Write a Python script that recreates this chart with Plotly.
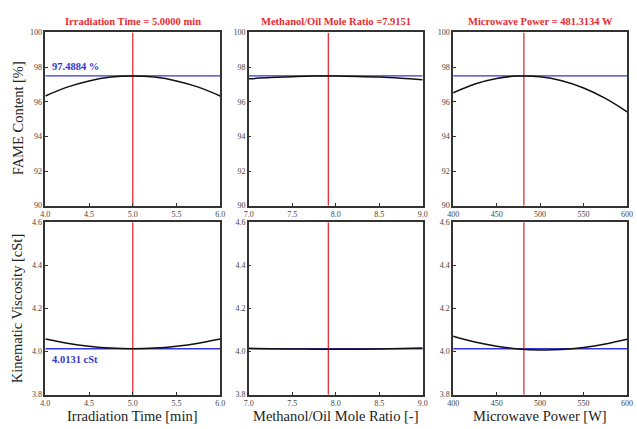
import plotly.graph_objects as go

# ---- data ----
time_x = [4.0, 4.25, 4.5, 4.75, 5.0, 5.25, 5.5, 5.75, 6.0]
fame_time = [96.33, 96.84, 97.20, 97.42, 97.49, 97.42, 97.20, 96.84, 96.33]
visc_time = [4.058, 4.039, 4.025, 4.016, 4.013, 4.016, 4.025, 4.039, 4.058]

ratio_x = [7.0, 7.25, 7.5, 7.75, 8.0, 8.25, 8.5, 8.75, 9.0]
fame_ratio = [97.32, 97.39, 97.44, 97.48, 97.485, 97.46, 97.42, 97.35, 97.26]
visc_ratio = [4.015, 4.013, 4.012, 4.011, 4.011, 4.011, 4.012, 4.014, 4.016]

power_x = [400, 425, 450, 475, 500, 525, 550, 575, 600]
fame_power = [96.51, 97.02, 97.34, 97.48, 97.44, 97.21, 96.79, 96.19, 95.42]
visc_power = [4.071, 4.044, 4.025, 4.012, 4.007, 4.009, 4.019, 4.035, 4.057]

opt_time = 5.0
opt_ratio = 7.9151
opt_power = 481.3134
opt_fame = 97.4884
opt_visc = 4.0131

panel_titles = ["Irradiation Time = 5.0000 min", "Methanol/Oil Mole Ratio =7.9151",
                "Microwave Power = 481.3134 W"]
x_titles = ["Irradiation Time [min]", "Methanol/Oil Mole Ratio [-]", "Microwave Power [W]"]
y_titles = ["FAME Content [%]", "Kinematic Viscosity [cSt]"]

x_ranges = [[4.0, 6.0], [7.0, 9.0], [400, 600]]
x_dtick = [0.5, 0.5, 50]
x_fmt = [".1f", ".1f", "d"]

RED = "#e52d35"
BLUE = "#3535d0"
SERIF = "Liberation Serif"

W, H = 637, 429
xdom_px = [(40, 218), (247, 424), (455, 632)]
ydom_px = [(29, 206), (223, 399)]

fig = go.Figure()

xs = [time_x, ratio_x, power_x]
ys_top = [fame_time, fame_ratio, fame_power]
ys_bot = [visc_time, visc_ratio, visc_power]
opts = [opt_time, opt_ratio, opt_power]

layout = dict(width=W, height=H, margin=dict(l=0, r=0, t=0, b=0),
              paper_bgcolor="white", plot_bgcolor="white", showlegend=False,
              font=dict(family=SERIF, color="#333"))
annotations = []

for r in range(2):
    for c in range(3):
        idx = r * 3 + c + 1
        xa = "x" if idx == 1 else f"x{idx}"
        ya = "y" if idx == 1 else f"y{idx}"
        xkey = "xaxis" if idx == 1 else f"xaxis{idx}"
        ykey = "yaxis" if idx == 1 else f"yaxis{idx}"
        yvals = ys_top[c] if r == 0 else ys_bot[c]
        hval = opt_fame if r == 0 else opt_visc
        yrange = [90, 100] if r == 0 else [3.8, 4.6]
        ydt = 2 if r == 0 else 0.2
        yfmt = "d" if r == 0 else ".1f"
        # blue optimum line
        fig.add_trace(go.Scatter(x=x_ranges[c], y=[hval, hval], mode="lines",
                                 line=dict(color=BLUE, width=1.3), xaxis=xa, yaxis=ya,
                                 hoverinfo="skip"))
        # red vertical line
        fig.add_trace(go.Scatter(x=[opts[c], opts[c]], y=yrange, mode="lines",
                                 line=dict(color=RED, width=1.3), xaxis=xa, yaxis=ya,
                                 hoverinfo="skip"))
        # response curve
        fig.add_trace(go.Scatter(x=xs[c], y=yvals, mode="lines", line_shape="spline",
                                 line=dict(color="#111", width=1.5), xaxis=xa, yaxis=ya))
        x0, x1 = xdom_px[c]
        y0, y1 = ydom_px[r]
        layout[xkey] = dict(domain=[x0 / W, x1 / W], anchor=ya, range=x_ranges[c],
                            dtick=x_dtick[c], tickformat=x_fmt[c], ticks="inside",
                            ticklen=3, tickcolor="#333", showline=True, mirror=True,
                            linecolor="#333", linewidth=1.5, showgrid=False, zeroline=False,
                            tickfont=dict(size=8, family=SERIF, color="#444"))
        layout[ykey] = dict(domain=[1 - y1 / H, 1 - y0 / H], anchor=xa, range=yrange,
                            dtick=ydt, tickformat=yfmt, ticks="inside", ticklen=3,
                            tickcolor="#333", showline=True, mirror=True,
                            linecolor="#333", linewidth=1.5, showgrid=False, zeroline=False,
                            tickfont=dict(size=8, family=SERIF, color="#444"))
        if r == 0:
            annotations.append(dict(text=f"<b>{panel_titles[c]}</b>", xref="paper", yref="paper",
                                    x=(x0 + x1) / 2 / W, y=1 - 18 / H, showarrow=False,
                                    xanchor="center", yanchor="middle",
                                    font=dict(size=10.5, color=RED, family=SERIF)))
        else:
            annotations.append(dict(text=x_titles[c], xref="paper", yref="paper",
                                    x=(x0 + x1) / 2 / W, y=1 - 421 / H, showarrow=False,
                                    xanchor="center", yanchor="middle",
                                    font=dict(size=14.5, color="#222", family=SERIF)))

annotations.append(dict(text=y_titles[0], xref="paper", yref="paper", x=12 / W,
                        y=1 - 117 / H, textangle=-90, showarrow=False,
                        xanchor="center", yanchor="middle",
                        font=dict(size=14.5, color="#222", family=SERIF)))
annotations.append(dict(text=y_titles[1], xref="paper", yref="paper", x=12 / W,
                        y=1 - 311 / H, textangle=-90, showarrow=False,
                        xanchor="center", yanchor="middle",
                        font=dict(size=14.5, color="#222", family=SERIF)))
annotations.append(dict(text=f"<b>{opt_fame:.4f} %</b>", xref="x", yref="y",
                        x=4.05, y=opt_fame, xanchor="left", yanchor="bottom", yshift=2,
                        showarrow=False, font=dict(size=10.5, color=BLUE, family=SERIF)))
annotations.append(dict(text=f"<b>{opt_visc:.4f} cSt</b>", xref="x4", yref="y4",
                        x=4.05, y=opt_visc, xanchor="left", yanchor="top", yshift=-3,
                        showarrow=False, font=dict(size=10.5, color=BLUE, family=SERIF)))

layout["annotations"] = annotations
fig.update_layout(**layout)
fig.write_html("out.html")
